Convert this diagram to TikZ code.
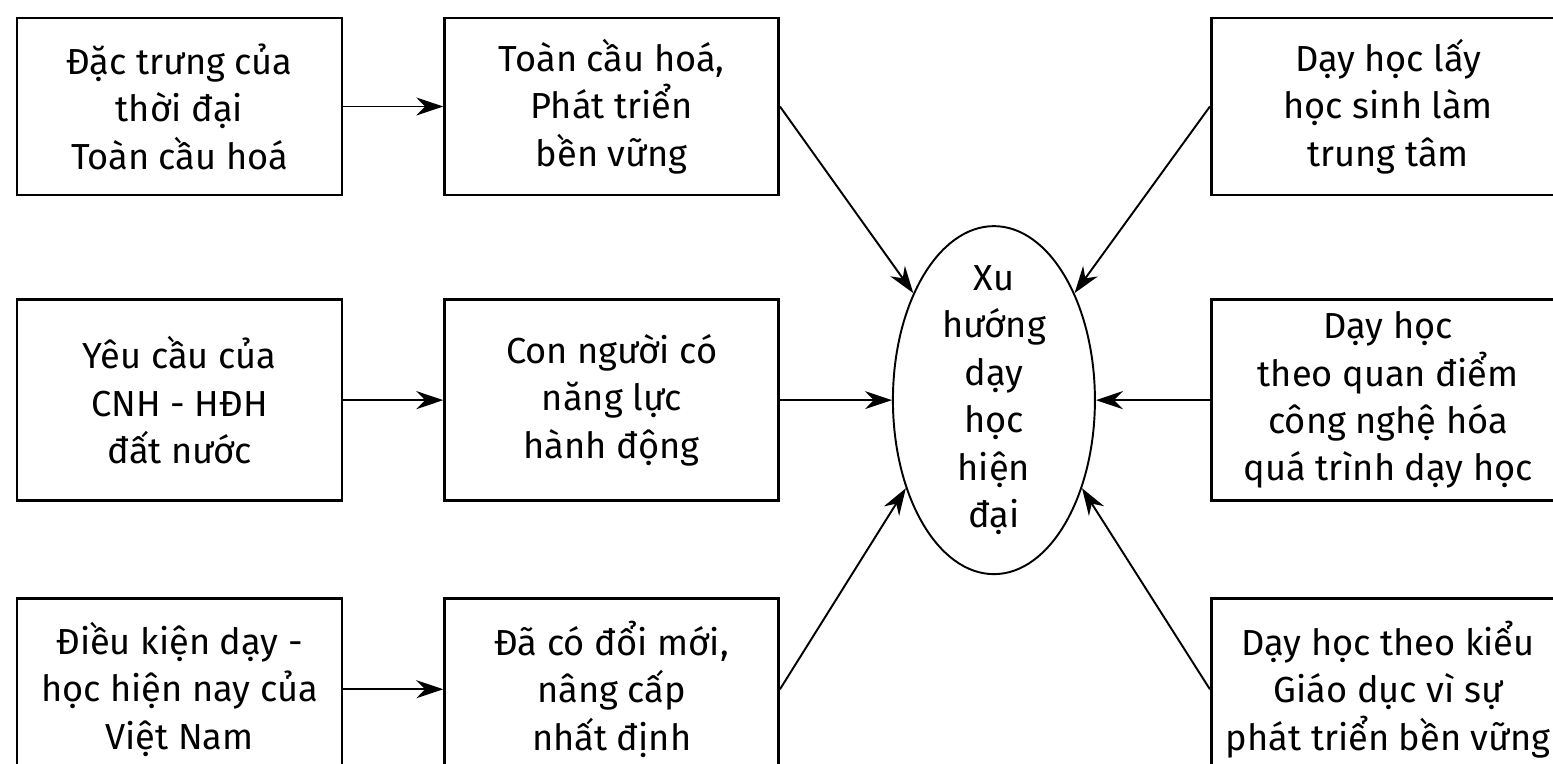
\documentclass[tikz,border=0pt]{standalone}
\usepackage{fontspec}
\setmainfont{Fira Sans}
\usepackage{tikz}
\usetikzlibrary{arrows.meta,positioning,shapes.geometric}

\begin{document}
\begin{tikzpicture}[
  font=\fontsize{20.6}{27}\selectfont,
  box/.style={rectangle,draw=black,line width=1.5pt,fill=white,align=center,inner sep=2pt},
  cause/.style={box,minimum width=65mm},
  effect/.style={box,minimum width=66.8mm},
  trend/.style={box,minimum width=70.8mm},
  hub/.style={ellipse,draw=black,line width=1.1pt,align=center,inner xsep=0pt,inner ysep=-5mm,minimum width=40.4mm,minimum height=69.6mm},
  arr/.style={-{Stealth[length=5.4mm,width=3.6mm]},line width=1.1pt}
]
\useasboundingbox (0,0) rectangle (31.06,-15.28);

\node[cause,minimum height=35.4mm] (l1) at (3.59,-2.13) {Đặc trưng của\\thời đại\\Toàn cầu hoá};
\node[cause,minimum height=40.2mm,below=20.4mm of l1] (l2) {Yêu cầu của\\CNH - HĐH\\đất nước};
\node[cause,minimum height=36.4mm,below=19mm of l2] (l3) {Điều kiện dạy -\\học hiện nay của\\Việt Nam};

\node[effect,minimum height=35.4mm,right=20mm of l1] (m1) {Toàn cầu hoá,\\Phát triển\\bền vững};
\node[effect,minimum height=40.2mm,right=20mm of l2] (m2) {Con người có\\năng lực\\hành động};
\node[effect,minimum height=36.4mm,right=20mm of l3] (m3) {Đã có đổi mới,\\nâng cấp\\nhất định};

\node[hub,right=22.4mm of m2] (core) {Xu\\hướng\\dạy\\học\\hiện\\đại};

\node[trend,minimum height=40.2mm,right=22.8mm of core] (r2) {Dạy học\\theo quan điểm\\công nghệ hóa\\quá trình dạy học};
\node[trend,minimum height=35.4mm,above=20.4mm of r2] (r1) {Dạy học lấy\\học sinh làm\\trung tâm};
\node[trend,minimum height=36.4mm,below=19mm of r2] (r3) {Dạy học theo kiểu\\Giáo dục vì sự\\phát triển bền vững};

\draw[arr] (l1)--(m1);
\draw[arr] (l2)--(m2);
\draw[arr] (l3)--(m3);
\draw[arr] (m1.east)--(core.127);
\draw[arr] (m2)--(core);
\draw[arr] (m3.east)--(core.225);
\draw[arr] (r1.west)--(core.53);
\draw[arr] (r2)--(core);
\draw[arr] (r3.west)--(core.315);
\end{tikzpicture}
\end{document}
